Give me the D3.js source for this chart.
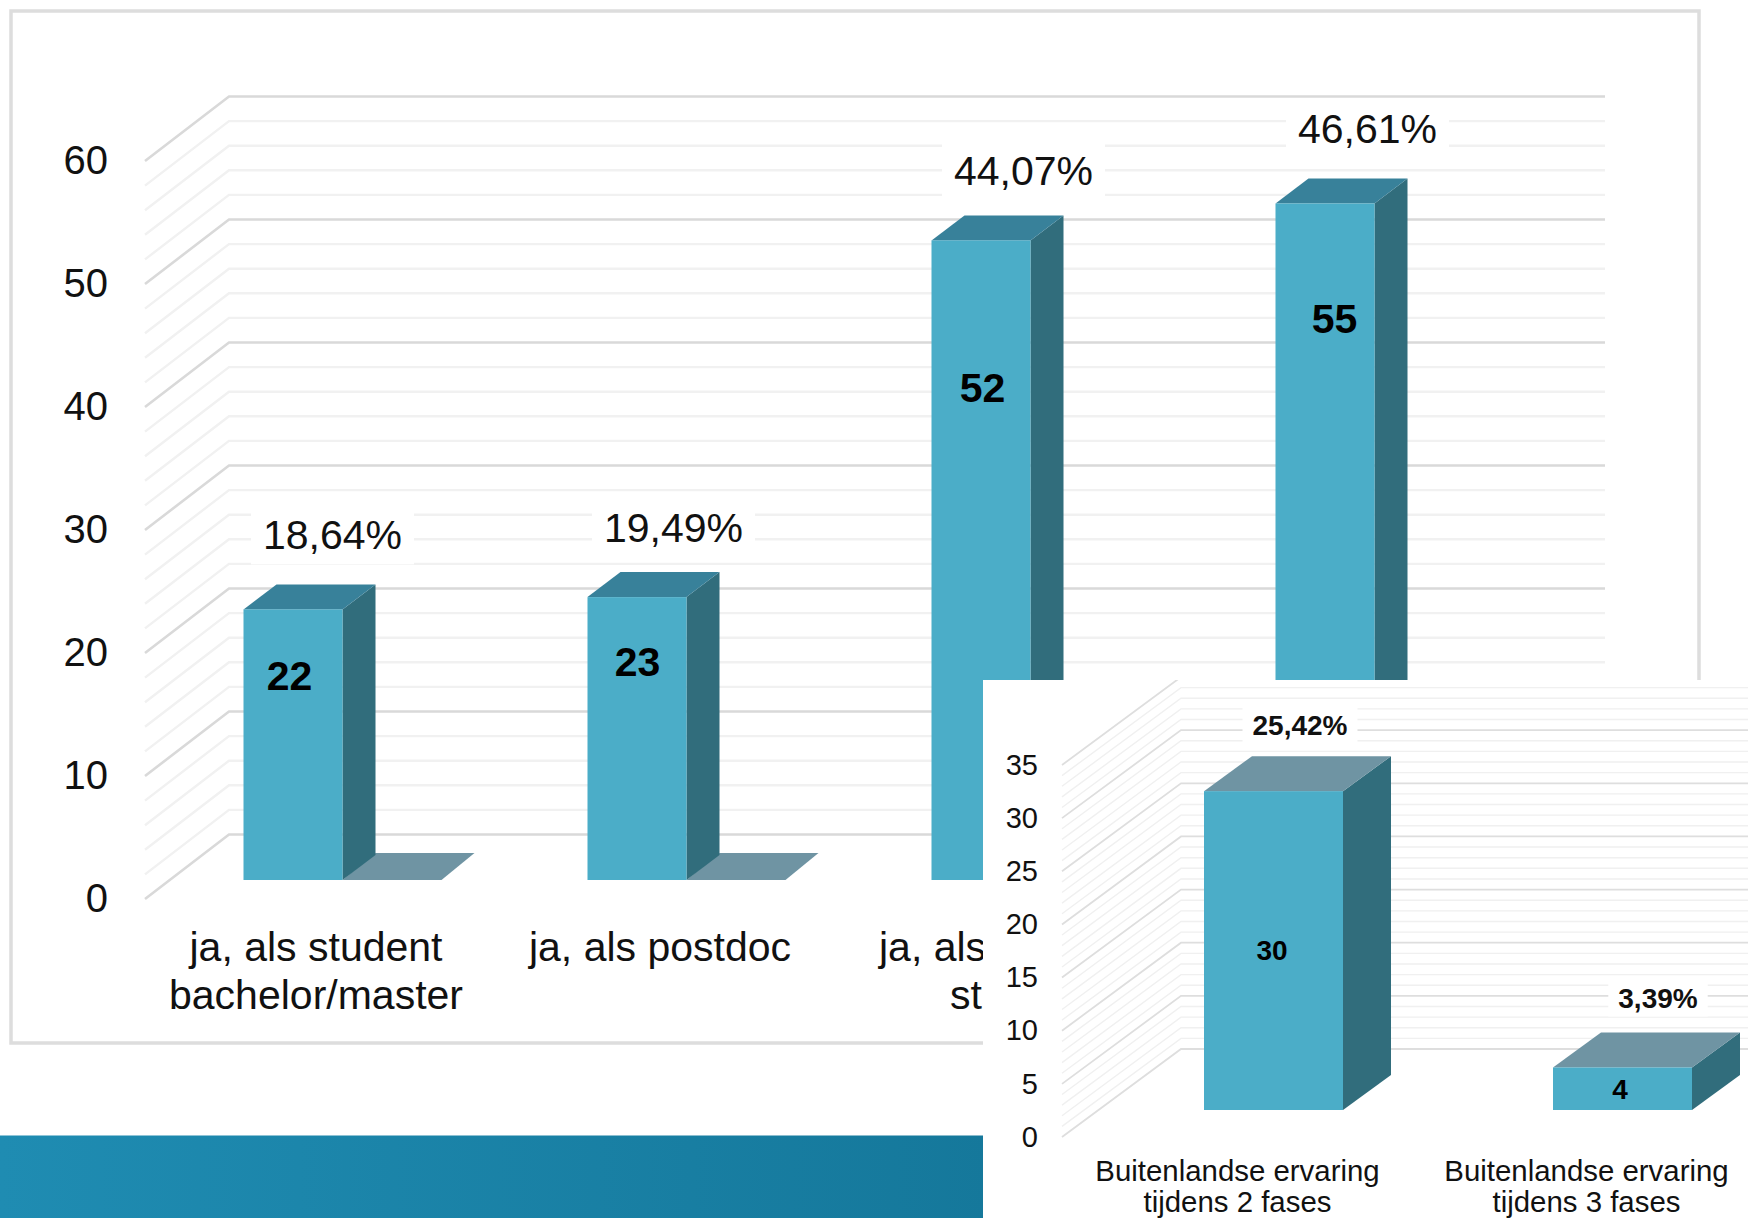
<!DOCTYPE html>
<html>
<head>
<meta charset="utf-8">
<script src="https://cdn.jsdelivr.net/npm/d3@7"></script>
<style>
  html, body { margin: 0; padding: 0; background: #fff; }
  svg { display: block; }
  text { font-family: "Liberation Sans", Arial, sans-serif; fill: #111; }
</style>
</head>
<body>
<svg id="chart" width="1748" height="1218"></svg>
<script>
// -------- DATA --------
const mainCategories = ["student", "postdoc", "doctoraat", "overig"];
const mainLabelLines = [["ja, als student", "bachelor/master"], ["ja, als postdoc"], [], []];
const mainCounts = [22, 23, 52, 55];
const mainEmptySeries = [0, 0, 0, 0];
const mainPercents = ["18,64%", "19,49%", "44,07%", "46,61%"];
const mainTicks = [0, 10, 20, 30, 40, 50, 60];

const insetCategories = ["2 fases", "3 fases"];
const insetLabelLines = [["Buitenlandse ervaring", "tijdens 2 fases"], ["Buitenlandse ervaring", "tijdens 3 fases"]];
const insetCounts = [30, 4];
const insetPercents = ["25,42%", "3,39%"];
const insetTicks = [0, 5, 10, 15, 20, 25, 30, 35];

// hand placed labels in the original slide, offsets from the default spot
const mainPctNudge = [[-1, -3], [-4, 3], [2, 2], [2, -3]];
const mainCountNudge = [[-4, 4], [0, -1], [1, 0], [9, -40]];

const svg = d3.select("#chart");
const defs = svg.append("defs");

// -------- 3D BAR --------
function drawBar(g, x, w, yTop, yBase, dx, dy, cols) {
  g.append("path")
    .attr("d", `M${x + w},${yTop}L${x + w + dx},${yTop - dy}L${x + w + dx},${yBase - dy}L${x + w},${yBase}Z`)
    .attr("fill", cols.side);
  g.append("path")
    .attr("d", `M${x},${yTop}L${x + dx},${yTop - dy}L${x + w + dx},${yTop - dy}L${x + w},${yTop}Z`)
    .attr("fill", cols.top);
  if (yBase > yTop) {
    g.append("rect")
      .attr("x", x).attr("y", yTop)
      .attr("width", w).attr("height", yBase - yTop)
      .attr("fill", cols.front);
  }
}

// -------- WALL GRID --------
function drawGrid(g, y, maxVal, minorStep, majorStep, x0, x1, dx, dy, style) {
  const vals = d3.range(0, maxVal + 0.001, minorStep);
  vals.sort((a, b) => (a % majorStep === 0) - (b % majorStep === 0));
  g.selectAll("path.grid")
    .data(vals)
    .enter()
    .append("path")
    .attr("class", "grid")
    .attr("d", v => `M${x0},${y(v)}L${x0 + dx},${y(v) - dy}L${x1},${y(v) - dy}`)
    .attr("fill", "none")
    .attr("stroke", v => v % majorStep === 0 ? style.major : style.minor)
    .attr("stroke-width", v => v % majorStep === 0 ? style.majorW : style.minorW);
}

function drawAxis(g, y, ticks, x, padding, size) {
  const axis = d3.axisLeft(y).tickValues(ticks).tickSize(0).tickPadding(padding);
  const a = g.append("g").attr("transform", `translate(${x},0)`).call(axis);
  a.select(".domain").remove();
  a.selectAll("text")
    .attr("font-size", size)
    .attr("font-family", null)
    .style("fill", "#111");
}

function labelWithBox(g, cx, cy, txt, size, weight, padX, boxH) {
  const t = g.append("text")
    .attr("x", cx).attr("y", cy)
    .attr("dy", "0.35em")
    .attr("text-anchor", "middle")
    .attr("font-size", size)
    .attr("font-weight", weight)
    .text(txt);
  const w = t.node().getComputedTextLength();
  g.insert("rect", () => t.node())
    .attr("x", cx - w / 2 - padX).attr("y", cy - boxH / 2)
    .attr("width", w + padX * 2).attr("height", boxH)
    .attr("fill", "#fff");
}

// -------- MAIN CHART --------
function drawMain() {
  const g = svg.append("g");

  g.append("rect")
    .attr("x", 11).attr("y", 11)
    .attr("width", 1688).attr("height", 1032)
    .attr("fill", "#fff")
    .attr("stroke", "#dddddd")
    .attr("stroke-width", 3.5);

  const y = d3.scaleLinear().domain([0, 60]).range([899, 161]);
  const x0 = d3.scaleBand().domain(mainCategories).range([145, 1521]);
  const x1 = d3.scaleBand().domain(["a", "b"]).range([98.5, 296.5]);

  drawGrid(g, y, 60, 2, 10, 145, 1605, 84, 64.5, {
    major: "#d9d9d9", minor: "#f1f1f1", majorW: 2.6, minorW: 2.4
  });
  drawAxis(g, y, mainTicks, 145, 37, 40);

  const baseShift = 19, dx = 33, dy = 25;
  const cols = { front: "#4badc8", side: "#316d7c", top: "#38819a" };
  const floorCols = { front: "#6f94a3", side: "#6f94a3", top: "#6f94a3" };

  mainCategories.forEach((c, i) => {
    const bx = x0(c) + x1("a");
    const ex = x0(c) + x1("b");
    drawBar(g, ex, x1.bandwidth(), y(mainEmptySeries[i]) - baseShift, y(0) - baseShift, dx, dy + 2, floorCols);
    drawBar(g, bx, x1.bandwidth(), y(mainCounts[i]) - baseShift, y(0) - baseShift, dx, dy, cols);
  });

  mainCategories.forEach((c, i) => {
    const bx = x0(c) + x1("a");
    const yTop = y(mainCounts[i]) - baseShift;
    labelWithBox(g, bx + 90 + mainPctNudge[i][0], yTop - 72 + mainPctNudge[i][1], mainPercents[i], 41, "normal", 12, 60);
    g.append("text")
      .attr("x", bx + 50 + mainCountNudge[i][0])
      .attr("y", y(mainCounts[i] * 0.77) - baseShift + mainCountNudge[i][1])
      .attr("dy", "0.35em")
      .attr("text-anchor", "middle")
      .attr("font-size", 41)
      .attr("font-weight", "bold")
      .style("fill", "#000")
      .text(mainCounts[i]);
    mainLabelLines[i].forEach((line, k) => {
      g.append("text")
        .attr("x", x0(c) + x0.bandwidth() / 2 - 1)
        .attr("y", 947 + k * 48)
        .attr("dy", "0.35em")
        .attr("text-anchor", "middle")
        .attr("font-size", 41)
        .text(line);
    });
  });

  // third label, the rest of it sits behind the inset
  g.append("text").attr("x", x0("doctoraat") + 46).attr("y", 947).attr("dy", "0.35em")
    .attr("font-size", 41).text("ja, als");
  g.append("text").attr("x", x0("doctoraat") + 117).attr("y", 995).attr("dy", "0.35em")
    .attr("font-size", 41).text("st");
}

// -------- BANNER --------
function drawBanner() {
  const grad = defs.append("linearGradient")
    .attr("id", "banner-grad")
    .attr("x1", "0%").attr("x2", "100%").attr("y1", "0%").attr("y2", "0%");
  grad.append("stop").attr("offset", "0%").attr("stop-color", "#1f8cb2");
  grad.append("stop").attr("offset", "100%").attr("stop-color", "#15789b");
  svg.append("rect")
    .attr("x", 0).attr("y", 1135.5)
    .attr("width", 990).attr("height", 82.5)
    .attr("fill", "url(#banner-grad)");
}

// -------- INSET --------
function drawInset() {
  defs.append("clipPath").attr("id", "inset-clip")
    .append("rect").attr("x", 983).attr("y", 680).attr("width", 765).attr("height", 538);

  const g = svg.append("g").attr("clip-path", "url(#inset-clip)");
  g.append("rect")
    .attr("x", 983).attr("y", 680)
    .attr("width", 765).attr("height", 538)
    .attr("fill", "#fff");

  const y = d3.scaleLinear().domain([0, 35]).range([1137, 765]);
  const x0 = d3.scaleBand().domain(insetCategories).range([1062, 1760]);

  drawGrid(g, y, 35, 1, 5, 1062, 1748, 119, 88, {
    major: "#dedede", minor: "#f0f0f0", majorW: 1.8, minorW: 1.4
  });
  drawAxis(g, y, insetTicks, 1062, 24, 29);

  const baseShift = 27, dx = 48, dy = 35, barX = 142, barW = 139;
  const cols = { front: "#4badc8", side: "#316d7c", top: "#6f94a3" };

  insetCategories.forEach((c, i) => {
    const bx = x0(c) + barX;
    const yTop = y(insetCounts[i]) - baseShift;
    drawBar(g, bx, barW, yTop, y(0) - baseShift, dx, dy, cols);
    labelWithBox(g, bx + 96 + (i ? 9 : 0), yTop - (i ? 69 : 66), insetPercents[i], 28, "bold", 10, 36);
    g.append("text")
      .attr("x", bx + (i ? 67 : 68))
      .attr("y", y(insetCounts[i] * (i ? 0.5 : 0.5)) - baseShift)
      .attr("dy", "0.35em")
      .attr("text-anchor", "middle")
      .attr("font-size", 28)
      .attr("font-weight", "bold")
      .style("fill", "#000")
      .text(insetCounts[i]);
    insetLabelLines[i].forEach((line, k) => {
      g.append("text")
        .attr("x", x0(c) + x0.bandwidth() / 2 + 1)
        .attr("y", 1171 + k * 31)
        .attr("dy", "0.35em")
        .attr("text-anchor", "middle")
        .attr("font-size", 29.4)
        .text(line);
    });
  });
}

drawMain();
drawBanner();
drawInset();
</script>
</body>
</html>
